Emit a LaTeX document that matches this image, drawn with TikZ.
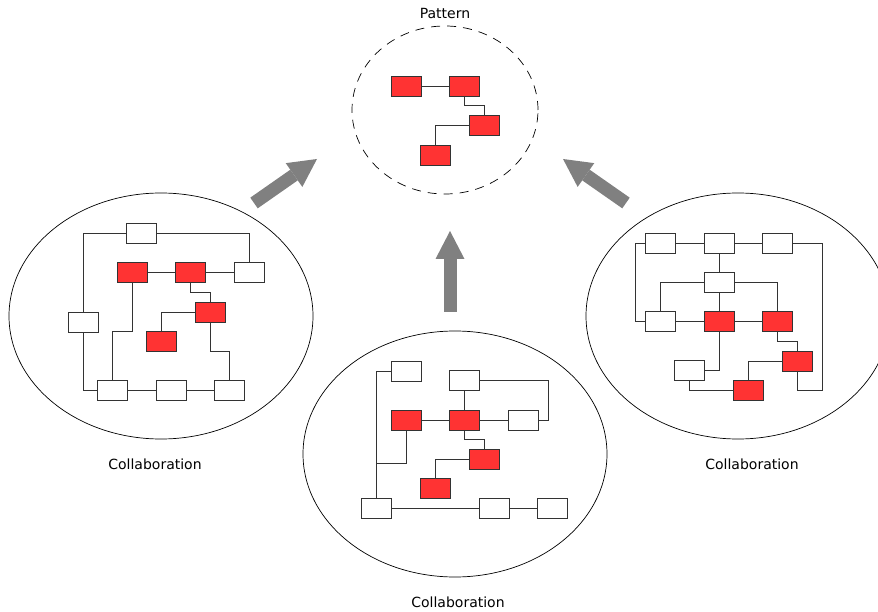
\documentclass[tikz,border=0pt]{standalone}
\usepackage{fontspec}
\setmainfont{DejaVu Sans}
\usepackage{xcolor}
\usepackage{tikz}
\usetikzlibrary{arrows.meta, shapes.geometric}
\definecolor{hotred}{HTML}{FF3333}
\definecolor{edgegray}{HTML}{333333}

\begin{document}
\begin{tikzpicture}[
    x=1pt, y=-1pt,
    every node/.style={font=\fontsize{14}{16}\selectfont},
    wbox/.style={rectangle, draw=edgegray, fill=white, line width=0.8pt,
                 minimum width=30pt, minimum height=20pt, inner sep=0pt},
    rbox/.style={wbox, fill=hotred},
    link/.style={draw=edgegray, line width=0.8pt},
    blob/.style={ellipse, draw, line width=0.7pt, inner sep=0pt,
                 minimum width=304pt, minimum height=246pt},
    bigarrow/.style={draw=gray, line width=13pt,
                     -{Triangle[length=28pt, width=29pt, line width=0pt]}}
  ]

  \clip (0,0) rectangle (878,612);

  \node[blob, dashed, dash pattern=on 9pt off 7pt,
        minimum width=186pt, minimum height=168pt] (pattern) at (445,110) {};
  \node[blob] (colA) at (161,316) {};
  \node[blob] (colB) at (455,454) {};
  \node[blob] (colC) at (738,316) {};

  \node (ptext) at (445,13) {Pattern};
  \node (atext) at (155,464) {Collaboration};
  \node (btext) at (458,602) {Collaboration};
  \node (ctext) at (752,464) {Collaboration};

  % pattern
  \node[rbox] (p1) at (406,86) {};
  \node[rbox] (p2) at (464.5,86) {};
  \node[rbox] (p3) at (484,125) {};
  \node[rbox] (p4) at (435,155) {};

  \draw[link] (p1) -- (p2);
  \draw[link] (p2.south) -- ++(0,9) -| (p3.north);
  \draw[link] (p3.west) -| (p4.north);

  % left collaboration
  \node[wbox] (a1) at (141.5,233) {};
  \node[rbox] (a2) at (132,272) {};
  \node[rbox] (a3) at (190.5,272) {};
  \node[wbox] (a4) at (249.5,272) {};
  \node[rbox] (a5) at (210,312) {};
  \node[wbox] (a6) at (83,322) {};
  \node[rbox] (a7) at (161,341) {};
  \node[wbox] (a8) at (112.5,390) {};
  \node[wbox] (a9) at (171,390) {};
  \node[wbox] (a10) at (229.5,390) {};

  \draw[link] (a1.west) -| (a6.north);
  \draw[link] (a6.south) |- (a8.west);
  \draw[link] (a1.east) -| (a4.north);
  \draw[link] (a2) -- (a3) -- (a4);
  \draw[link] (a2.south) -- ++(0,49) -| (a8.north);
  \draw[link] (a3.south) -- ++(0,10) -| (a5.north);
  \draw[link] (a5.west) -| (a7.north);
  \draw[link] (a5.south) -- ++(0,29) -| (a10.north);
  \draw[link] (a8) -- (a9) -- (a10);

  % middle collaboration
  \node[wbox] (b1) at (406,371) {};
  \node[wbox] (b2) at (464.5,380) {};
  \node[rbox] (b3) at (406,420) {};
  \node[rbox] (b4) at (464.5,420) {};
  \node[wbox] (b5) at (523.5,420) {};
  \node[rbox] (b6) at (484.5,459) {};
  \node[rbox] (b7) at (435.5,488) {};
  \node[wbox] (b8) at (376.5,508) {};
  \node[wbox] (b9) at (494,508) {};
  \node[wbox] (b10) at (552.5,508) {};

  \draw[link] (b1.west) -| (b8.north);
  \draw[link] (b3.south) |- ([yshift=34pt]b8.north);
  \draw[link] (b2.east) -| ([xshift=9pt]b5.east) -- (b5.east);
  \draw[link] (b2) -- (b4);
  \draw[link] (b3) -- (b4) -- (b5);
  \draw[link] (b4.south) -- ++(0,9) -| (b6.north);
  \draw[link] (b6.west) -| (b7.north);
  \draw[link] (b8) -- (b9) -- (b10);

  % right collaboration
  \node[wbox] (c1) at (660,243) {};
  \node[wbox] (c2) at (719,243) {};
  \node[wbox] (c3) at (777.5,243) {};
  \node[wbox] (c4) at (719,282) {};
  \node[wbox] (c5) at (660,321) {};
  \node[rbox] (c6) at (719,321) {};
  \node[rbox] (c7) at (777.5,321) {};
  \node[rbox] (c8) at (797.5,361) {};
  \node[wbox] (c9) at (689.5,370.5) {};
  \node[rbox] (c10) at (748.5,390) {};

  \draw[link] (c1) -- (c2) -- (c3);
  \draw[link] (c1.west) -- ++(-9,0) |- (c5.west);
  \draw[link] (c3.east) -- ++(29.5,0) |- ([yshift=-19pt]c8.south) -- (c8.south);
  \draw[link] (c2) -- (c4) -- (c6);
  \draw[link] (c4.west) -| (c5.north);
  \draw[link] (c4.east) -| (c7.north);
  \draw[link] (c5) -- (c6) -- (c7);
  \draw[link] (c6.south) |- (c9.east);
  \draw[link] (c9.south) |- (c10.west);
  \draw[link] (c7.south) -- ++(0,10) -| (c8.north);
  \draw[link] (c8.west) -| (c10.north);

  % flow towards the pattern
  \coordinate (la) at (254,203);
  \coordinate (lb) at (317,159);
  \coordinate (ma) at (450,312);
  \coordinate (mb) at (450,231);
  \coordinate (ra) at (626,203);
  \coordinate (rb) at (563,159);

  \draw[bigarrow] (la) -- (lb);
  \draw[bigarrow] (ma) -- (mb);
  \draw[bigarrow] (ra) -- (rb);

\end{tikzpicture}
\end{document}
